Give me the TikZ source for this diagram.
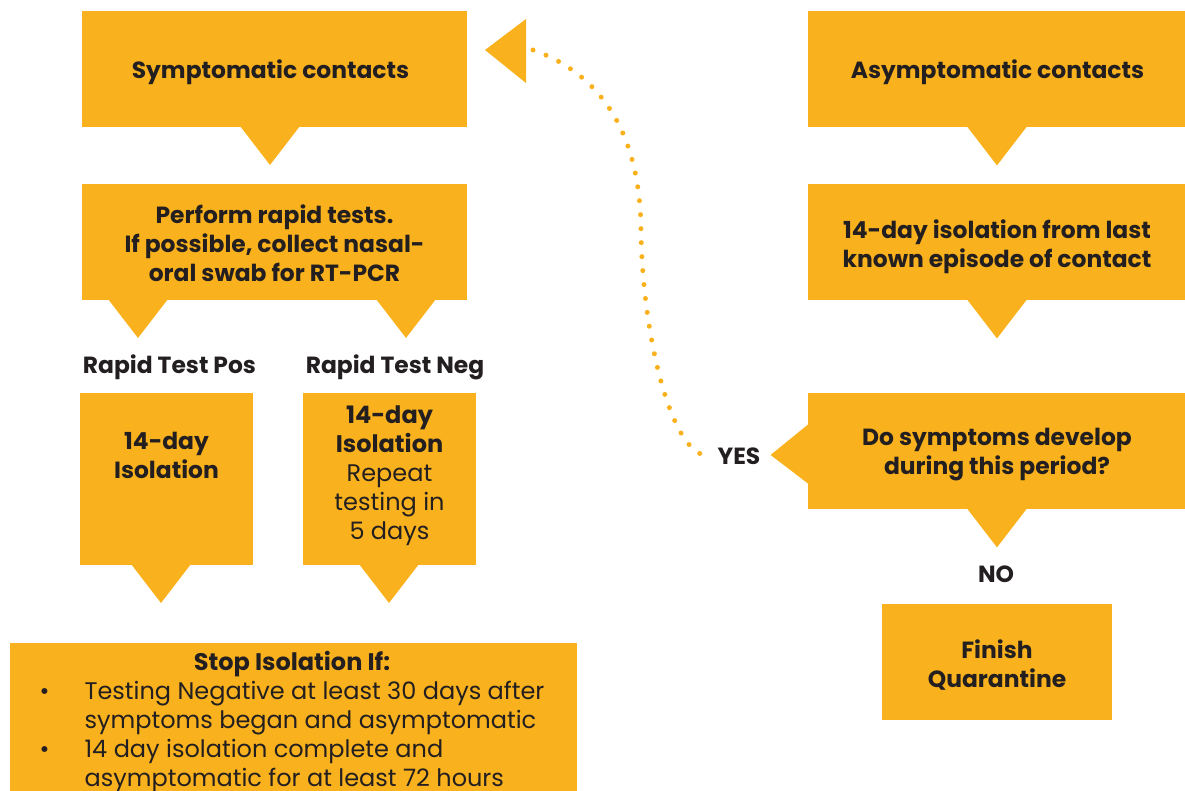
\documentclass[tikz,border=0pt]{standalone}
\usepackage{fontspec}
\setmainfont{Poppins}
\usetikzlibrary{calc}
\definecolor{amber}{HTML}{F9B21D}
\definecolor{ink}{HTML}{231F20}

\begin{document}
\begin{tikzpicture}[x=0.5pt,y=-0.5pt,
  box/.style={fill=amber,inner sep=0pt},
  lbl/.style={text=ink,inner sep=0pt,align=center,font=\fontsize{11.7}{14.5}\selectfont\bfseries},
  plain/.style={text=ink,inner sep=0pt,align=center,font=\fontsize{12}{14.5}\selectfont},
  dotline/.style={draw=amber,line width=2.5pt,line cap=round,dash pattern=on 0pt off 7pt},
  pointer/.pic={\fill[amber] (-30,-1) -- (30,-1) -- (0,38) -- cycle;}]
\useasboundingbox (0,0) rectangle (1185,791);
          \node[box,minimum width=192.5pt,minimum height=58pt] (sym) at (274.5,69) {};
          \node[box,minimum width=192.5pt,minimum height=58pt] (perf) at (274.5,242) {};
          \node[box,minimum width=86.5pt,minimum height=86pt] (isoA) at (166.5,479) {};
          \node[box,minimum width=86.5pt,minimum height=86pt] (isoB) at (389.5,479) {};
          \node[box,minimum width=283.5pt,minimum height=76pt] (stop) at (293.5,719) {};
          \node[box,minimum width=189pt,minimum height=58pt] (asym) at (997,69) {};
          \node[box,minimum width=189pt,minimum height=58pt] (fourteen) at (997,242) {};
          \node[box,minimum width=189pt,minimum height=58pt] (dosym) at (997,451) {};
          \node[box,minimum width=115pt,minimum height=58pt] (finish) at (997,662) {};
          \pic at (270,127) {pointer};
          \pic at (138,300) {pointer};
          \pic at (406,300) {pointer};
          \pic at (161,565) {pointer};
          \pic at (389,565) {pointer};
          \pic at (asym.south) {pointer};
          \pic at (fourteen.south) {pointer};
          \pic at (dosym.south) {pointer};
          \fill[amber] ($(dosym.west)+(1,-27)$) -- ($(dosym.west)+(1,33)$) -- ($(dosym.west)+(-37,4)$) -- cycle;
          \node[lbl] (symtxt) at (270.5,72) {Symptomatic contacts};
          \node[lbl] (perftxt) at (274.5,243) {Perform rapid tests.\\If possible, collect nasal-\\oral swab for RT-PCR};
          \node[lbl] (asymtxt) at (997.5,72) {Asymptomatic contacts};
          \node[lbl] (fourteentxt) at (997,246.5) {14-day isolation from last\\known episode of contact};
          \node[lbl] (dosymtxt) at (997,454.5) {Do symptoms develop\\during this period?};
          \node[lbl] (finishtxt) at (997,665) {Finish\\Quarantine};
          \node[lbl] (isoAtxt) at (166.5,455) {14-day\\Isolation};
          \node[plain] (isoBtxt) at (389.5,476) {\textbf{14-day}\\\textbf{Isolation}\\Repeat\\testing in\\5 days};
          \node[plain] (stoptxt) at (292,723) {\begin{tabular}{@{}p{22.5pt}@{}l@{}}
            \multicolumn{2}{c}{\bfseries Stop Isolation If:}\\
            \textbullet & Testing Negative at least 30 days after\\
                        & symptoms began and asymptomatic\\
            \textbullet & 14 day isolation complete and\\
                        & asymptomatic for at least 72 hours
          \end{tabular}};
          \node[lbl] (pos) at (169.5,367) {Rapid Test Pos};
          \node[lbl] (neg) at (395,367) {Rapid Test Neg};
          \node[lbl] (yes) at (739,456) {YES};
          \node[lbl] (no) at (996,574) {NO};
          \coordinate (back) at (533,50);
          \fill[amber] ($(back)+(-7,-31)$) -- ($(back)+(-7,33)$) -- ($(back)+(-48,0)$) -- cycle;
          \draw[dotline,shorten >=4.5pt] (back) .. controls (590,70) and (640,120) .. (641,230)
                .. controls (642,330) and (670,455) .. (yes.west);
\end{tikzpicture}
\end{document}
